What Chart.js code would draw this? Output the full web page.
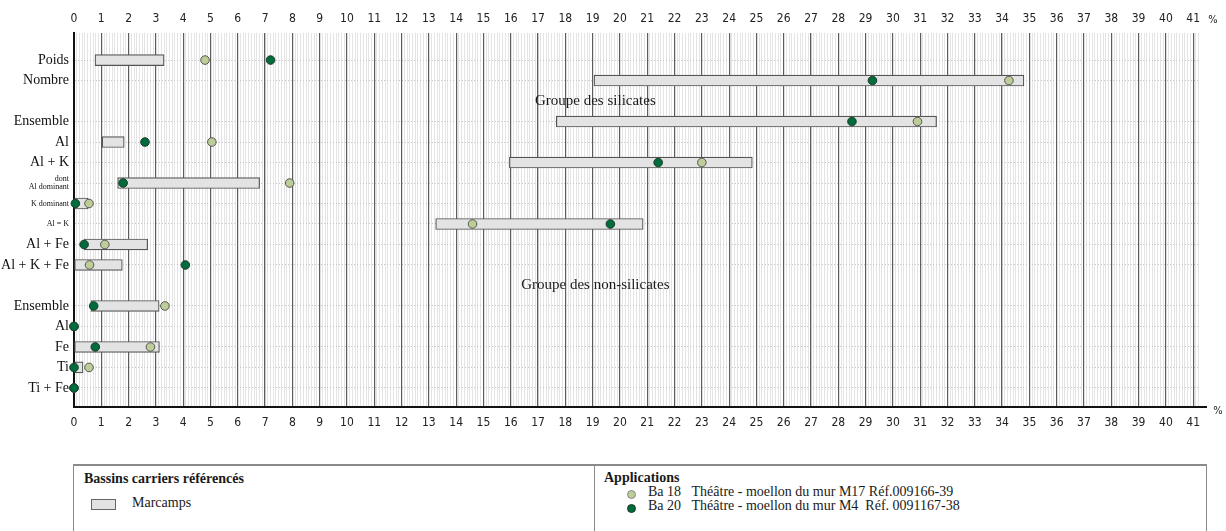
<!DOCTYPE html>
<html>
<head>
<meta charset="utf-8">
<script src="https://cdn.jsdelivr.net/npm/chart.js@4/dist/chart.umd.min.js"></script>
<style>
  html,body{margin:0;padding:0;background:#fff;width:1226px;height:531px;overflow:hidden;}
  #wrap{position:absolute;left:0;top:0;width:1226px;height:440px;}
  .serif{font-family:"Liberation Serif","DejaVu Serif",serif;color:#1a1a1a;}
  #legend{position:absolute;left:73px;top:464px;width:1132px;height:80px;border:1px solid #8a8a8a;border-top-width:2px;}
  #legend .div{position:absolute;left:520px;top:0;width:1px;height:80px;background:#8a8a8a;}
  .t{position:absolute;white-space:nowrap;}
  .sw{position:absolute;left:17px;top:33px;width:23px;height:9px;background:#e3e3e3;border:1px solid #666;}
  .dot{position:absolute;width:7px;height:7px;border-radius:50%;}
</style>
</head>
<body>
<div id="wrap"><canvas id="chart"></canvas></div>

<div id="legend" class="serif">
  <div class="t" style="left:10px;top:5px;font-size:14px;font-weight:bold;">Bassins carriers référencés</div>
  <div class="sw"></div>
  <div class="t" style="left:58px;top:29px;font-size:14px;">Marcamps</div>
  <div class="div"></div>
  <div class="t" style="left:530px;top:4px;font-size:14px;font-weight:bold;">Applications</div>
  <div class="dot" style="left:553px;top:24px;background:#bccd98;border:1px solid #888;"></div>
  <div class="t" style="left:574px;top:18px;font-size:14px;">Ba 18 &nbsp;&nbsp;Théâtre - moellon du mur M17 Réf.009166-39</div>
  <div class="dot" style="left:553px;top:38px;background:#006b3c;border:1px solid #1c3b26;"></div>
  <div class="t" style="left:574px;top:32px;font-size:14px;">Ba 20 &nbsp;&nbsp;Théâtre - moellon du mur M4 &nbsp;Réf. 0091167-38</div>
</div>

<script>
// rows from top to bottom ('' = spacer row)
const rows = ['Poids', 'Nombre', '', 'Ensemble', 'Al', 'Al + K', ['dont', 'Al dominant'], 'K dominant', 'Al = K',
  'Al + Fe', 'Al + K + Fe', '', 'Ensemble', 'Al', 'Fe', 'Ti', 'Ti + Fe'];

// Marcamps range (%)
const marcampsMin = [0.77, 19.05, null, 17.67, 1.03, 15.95, 1.6, 0, 13.25, 0.37, 0, null, 0.62, null, 0, 0, null];
const marcampsMax = [3.3, 34.8, null, 31.6, 1.84, 24.85, 6.8, 0.52, 20.85, 2.7, 1.77, null, 3.12, null, 3.13, 0.33, null];

// applications
const ba18 = [4.8, 34.25, null, 30.9, 5.05, 23.0, 7.9, 0.55, 14.6, 1.13, 0.57, null, 3.33, 0, 2.8, 0.55, 0];
const ba20 = [7.2, 29.25, null, 28.5, 2.6, 21.4, 1.8, 0.05, 19.65, 0.37, 4.08, null, 0.72, 0, 0.78, 0, 0];

const groupLabels = ['Groupe des silicates', 'Groupe des non-silicates'];
const groupRows = [2, 11];

const smallRows = [6, 7, 8];
const SERIF = '"Liberation Serif", "DejaVu Serif", serif';
const NARROW = '"Liberation Sans Narrow", "DejaVu Sans Condensed", sans-serif';

const barData = [];
rows.forEach((r, i) => {
  if (marcampsMin[i] !== null) barData.push({x: [marcampsMin[i], marcampsMax[i]], y: i});
});
const pts = arr => arr.map((v, i) => v === null ? null : {x: v, y: i}).filter(p => p);

const rowLabel = v => (Number.isInteger(v) && v >= 0 && v < rows.length) ? rows[v] : '';

const extras = {
  id: 'extras',
  afterDraw(chart) {
    const {ctx, chartArea: a, scales} = chart;
    ctx.save();
    // extend bottom axis line
    ctx.strokeStyle = '#111';
    ctx.lineWidth = 2;
    ctx.beginPath();
    ctx.moveTo(a.right, a.bottom);
    ctx.lineTo(1207, a.bottom);
    ctx.stroke();
    ctx.fillStyle = '#222';
    ctx.font = '11px ' + NARROW;
    ctx.textAlign = 'center';
    ctx.textBaseline = 'middle';
    ctx.fillText('%', 1213, 20);
    ctx.fillText('%', 1218, 411);
    // group titles
    ctx.font = '15px ' + SERIF;
    ctx.fillStyle = '#1a1a1a';
    groupLabels.forEach((t, i) => {
      ctx.fillText(t, scales.x.getPixelForValue(19.1), scales.y.getPixelForValue(groupRows[i]));
    });
    ctx.restore();
  }
};

new Chart(document.getElementById('chart'), {
  type: 'bar',
  data: {
    datasets: [
      {
        type: 'scatter', label: 'Ba 20', data: pts(ba20), order: 1, clip: false,
        backgroundColor: '#006b3c', borderColor: '#1c3b26', borderWidth: 1, pointRadius: 4.3
      },
      {
        type: 'scatter', label: 'Ba 18', data: pts(ba18), order: 2, clip: false,
        backgroundColor: '#bccd98', borderColor: '#555', borderWidth: 1, pointRadius: 4.3
      },
      {
        type: 'bar', label: 'Marcamps', data: barData, indexAxis: 'y',
        backgroundColor: '#e3e3e3', borderColor: '#555', borderWidth: 1.2, borderSkipped: false,
        barThickness: 11, order: 5
      }
    ]
  },
  options: {
    responsive: true,
    maintainAspectRatio: false,
    animation: false,
    layout: {padding: {top: 0, right: 26, bottom: 0, left: 0}},
    plugins: {legend: {display: false}, tooltip: {enabled: false}},
    scales: {
      x: {
        type: 'linear', position: 'bottom', min: 0, max: 41.25, offset: false,
        afterFit: s => { s.height = 33; },
        ticks: {stepSize: 1, includeBounds: false, autoSkip: false, maxRotation: 0, padding: 9,
          color: '#222', font: {family: NARROW, size: 12}},
        grid: {color: '#5c5c5c', lineWidth: 1.2, drawTicks: false, offset: false},
        border: {display: true, color: '#111', width: 2}
      },
      xm: {
        type: 'linear', position: 'bottom', min: 0, max: 41.25, offset: false,
        afterFit: s => { s.height = 0; },
        ticks: {display: false, stepSize: 0.1, includeBounds: false},
        grid: {color: '#e4e4e4', lineWidth: 1, drawTicks: false, z: -3, offset: false},
        border: {display: false}
      },
      x2: {
        type: 'linear', position: 'top', min: 0, max: 41.25, offset: false,
        afterFit: s => { s.height = 33; },
        ticks: {stepSize: 1, includeBounds: false, autoSkip: false, maxRotation: 0, padding: 7,
          color: '#222', font: {family: NARROW, size: 12}},
        grid: {display: false, drawTicks: false, offset: false},
        border: {display: false}
      },
      y: {
        type: 'linear', reverse: true, min: -1.32, max: 16.93, offset: false,
        afterFit: s => { s.width = 74; },
        ticks: {
          stepSize: 1, includeBounds: false, autoSkip: false, padding: 5, color: '#111',
          callback: v => rowLabel(v),
          font: c => smallRows.includes(c.tick && c.tick.value)
            ? {family: SERIF, size: 8, lineHeight: 1.05}
            : {family: SERIF, size: 14}
        },
        grid: {
          drawTicks: false, z: -2, lineWidth: 1, offset: false,
          color: c => rowLabel(c.tick && c.tick.value) !== '' ? '#c4c4c4' : 'rgba(0,0,0,0)'
        },
        border: {display: true, color: '#111', width: 2, dash: [1, 2]}
      }
    }
  },
  plugins: [extras]
});
</script>
</body>
</html>
